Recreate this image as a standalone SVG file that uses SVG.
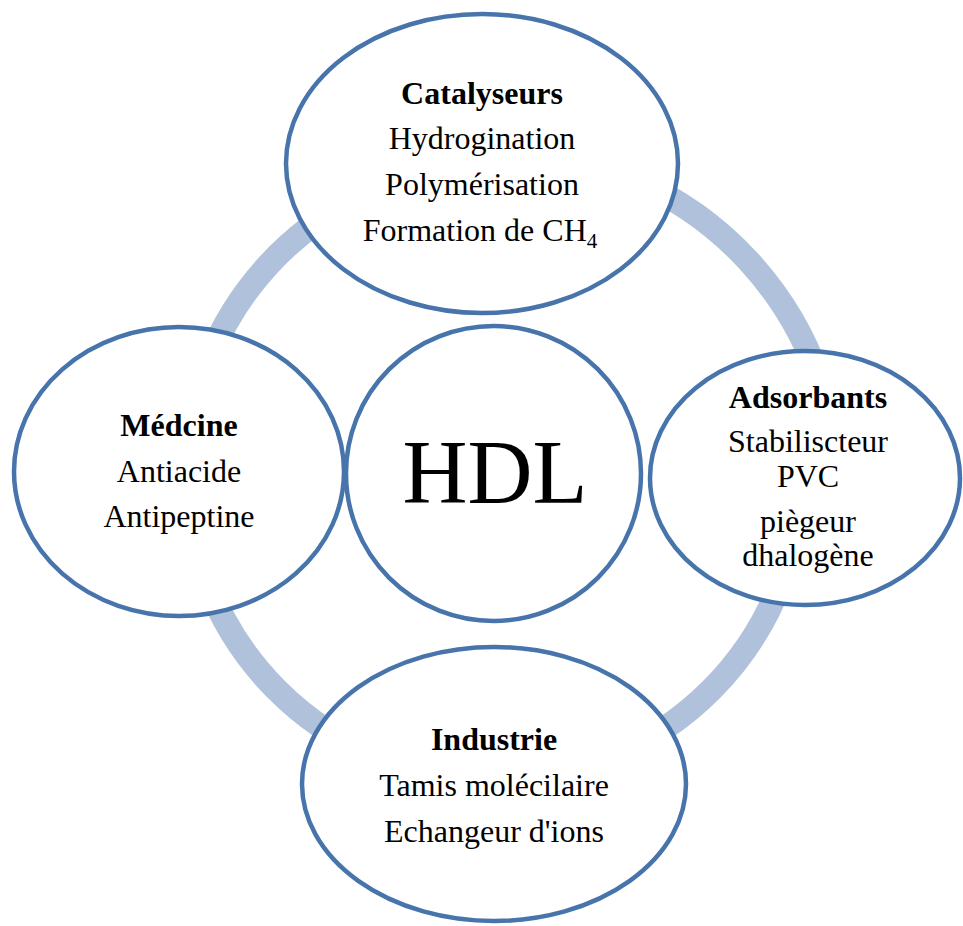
<svg xmlns="http://www.w3.org/2000/svg" width="963" height="926" viewBox="0 0 963 926">
  <style>
    .ring { fill: none; stroke: #b0c1dc; stroke-width: 24; }
    .node { fill: #ffffff; stroke: #4874ac; stroke-width: 4.5; }
    text { font-family: "Liberation Serif", "Times New Roman", serif; font-size: 32px; fill: #000000; text-anchor: middle; }
    .title { font-weight: bold; }
    .big { font-size: 90px; }
    .sub { font-size: 21px; }
  </style>

  <!-- cycle ring segments linking the outer nodes -->
  <g id="connectors">
    <path class="ring" d="M 208.6 360 A 307 307 0 0 1 353.6 200"/>
    <path class="ring" d="M 634.7 180 A 338 338 0 0 1 819.6 380"/>
    <path class="ring" d="M 781.7 580 A 307 307 0 0 1 603 760"/>
    <path class="ring" d="M 385 760 A 307 307 0 0 1 206.3 580"/>
  </g>

  <g id="catalyseurs">
    <ellipse class="node" cx="482" cy="163.5" rx="196" ry="149.5"/>
    <text class="title" x="482" y="104">Catalyseurs</text>
    <text x="482" y="149">Hydrogination</text>
    <text x="482" y="195">Polymérisation</text>
    <text x="480" y="241">Formation de CH<tspan class="sub" dy="7">4</tspan></text>
  </g>

  <g id="medcine">
    <ellipse class="node" cx="179" cy="471.5" rx="165" ry="144.5"/>
    <text class="title" x="179" y="436">Médcine</text>
    <text x="179" y="482">Antiacide</text>
    <text x="179" y="527">Antipeptine</text>
  </g>

  <g id="hdl">
    <circle class="node" cx="493.5" cy="473.5" r="147.5"/>
    <text class="big" x="495" y="503">HDL</text>
  </g>

  <g id="adsorbants">
    <ellipse class="node" cx="805" cy="478" rx="155" ry="127"/>
    <text class="title" x="808" y="408">Adsorbants</text>
    <text x="808" y="452">Stabiliscteur</text>
    <text x="808" y="487">PVC</text>
    <text x="808" y="532">piègeur</text>
    <text x="808" y="566">dhalogène</text>
  </g>

  <g id="industrie">
    <ellipse class="node" cx="494" cy="784" rx="192" ry="137"/>
    <text class="title" x="494" y="750">Industrie</text>
    <text x="494" y="796">Tamis molécilaire</text>
    <text x="494" y="842">Echangeur d'ions</text>
  </g>
</svg>
